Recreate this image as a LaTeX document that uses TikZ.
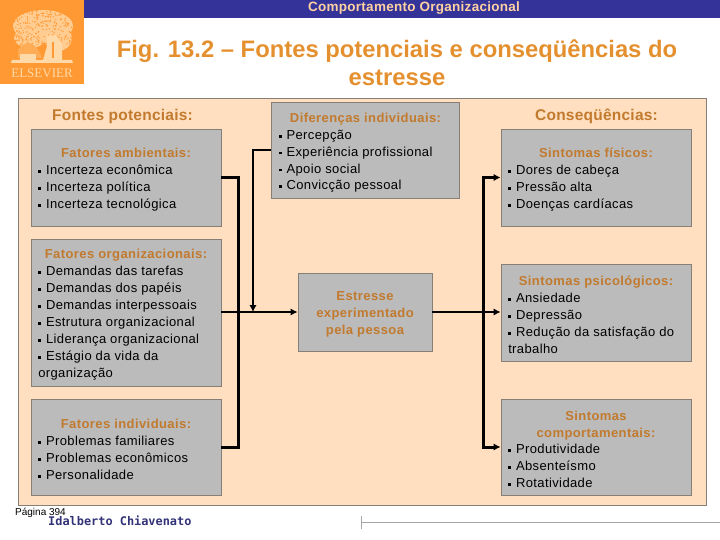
\documentclass[tikz,border=0pt]{standalone}
\usepackage{fontspec}
\setmainfont{Liberation Sans}
\newfontfamily\monof{DejaVu Sans Mono}
\usetikzlibrary{arrows.meta}
\definecolor{navyb}{HTML}{333399}
\definecolor{navyt}{HTML}{333377}
\definecolor{orlogo}{HTML}{FF9933}
\definecolor{treec}{HTML}{FFD9A8}
\definecolor{peach}{HTML}{FFDFBF}
\definecolor{boxg}{HTML}{BBBBBB}
\definecolor{edgeg}{HTML}{857F77}
\definecolor{headc}{HTML}{C27A2E}
\definecolor{titlec}{HTML}{E5902F}
\newcommand{\hd}[1]{\makebox[\linewidth][c]{\textcolor{headc}{\bfseries\addfontfeature{LetterSpace=3.2}#1}}}
\newcommand{\bl}{\raisebox{1.7pt}{\rule{2.8pt}{2.8pt}}\hspace{5pt}}
\tikzset{
  box/.style={draw=edgeg,line width=0.9pt,fill=boxg,inner sep=0pt,minimum width=#1,text width=#1-14.5pt,
    align=flush left,font=\fontsize{13}{16.9}\selectfont\addfontfeature{LetterSpace=3},text=black,
    execute at begin node={\rule{0pt}{14pt}}},
  link/.style={line width=3pt,black},
  hlink/.style={line width=2.6pt,black},
  tip/.style={-{Latex[length=7pt,width=7.5pt]}},
  sechead/.style={text=headc,font=\fontsize{15.5}{17}\selectfont\bfseries\addfontfeature{LetterSpace=1.5},inner sep=0pt},
}
\begin{document}
\begin{tikzpicture}[x=1pt,y=-1pt]
\useasboundingbox (0,0) rectangle (720,540);
% header and logo
\fill[navyb] (84,0) rectangle (720,18);
\fill[orlogo] (0,0) rectangle (84,84);
\begin{scope}
  \pgfmathsetseed{7}
  \fill[treec!80!orlogo] (43,26) ellipse (30 and 16);
  \fill[treec!80!orlogo] (30,38) ellipse (16 and 10);
  \fill[treec!80!orlogo] (58,38) ellipse (14 and 13);
  \foreach \i in {1,...,300}{
    \pgfmathsetmacro{\px}{11+rnd*61}
    \pgfmathsetmacro{\py}{9+rnd*36}
    \fill[orlogo] (\px,\py) circle (0.7);
  }
  \fill[treec] (47,36) -- (56,35) -- (62,44) -- (62,60) -- (43,60) -- (47,46) -- cycle;
  \fill[orlogo] (52,42) rectangle (54,58);
  \fill[orlogo!70!treec] (18,50) .. controls (26,38) and (36,42) .. (42,58) -- (18,58) -- cycle;
  \fill[treec] (20,54) rectangle (36,60);
  \fill[treec] (12,60) -- (72,60) -- (73,63) -- (11,63) -- cycle;
\end{scope}
\node[inner sep=0pt,text=treec] (elsv) at (42,73) {\fontspec{Liberation Serif}\fontsize{13}{13}\selectfont ELSEVIER};
\node[inner sep=0pt,text=peach!85!orange,font=\fontsize{13.5}{14}\selectfont\bfseries\addfontfeature{LetterSpace=2}] (hdr) at (414,8) {Comportamento Organizacional};
\node[inner sep=0pt,text=titlec,align=center,font=\fontsize{23.8}{28}\selectfont\bfseries] (title) at (397,63) {Fig. 13.2 – Fontes potenciais e conseqüências do\\estresse};
% panel
\filldraw[fill=peach,draw=edgeg,line width=0.9pt] (18,98) rectangle (706,505);
\node[sechead] (fontes) at (122.5,116.5) {Fontes potenciais:};
\node[sechead] (conseq) at (596.5,116.5) {Conseqüências:};
% boxes
\node[box=190pt,minimum height=97pt] (amb) at (126,177.5) {\hd{Fatores ambientais:}\\\bl Incerteza econômica\\\bl Incerteza política\\\bl Incerteza tecnológica};
\node[box=190pt,minimum height=147pt] (org) at (126,312.5) {\hd{Fatores organizacionais:}\\\bl Demandas das tarefas\\\bl Demandas dos papéis\\\bl Demandas interpessoais\\\bl Estrutura organizacional\\\bl Liderança organizacional\\\bl Estágio da vida da\\organização};
\node[box=190pt,minimum height=96pt] (ind) at (126,447) {\hd{Fatores individuais:}\\\bl Problemas familiares\\\bl Problemas econômicos\\\bl Personalidade};
\node[box=188pt,minimum height=96pt] (dif) at (365.5,150.5) {\hd{Diferenças individuais:}\\\bl Percepção\\\bl Experiência profissional\\\bl Apoio social\\\bl Convicção pessoal};
\node[box=134pt,minimum height=78pt] (stress) at (365,312) {\hd{Estresse}\\\hd{experimentado}\\\hd{pela pessoa}};
\node[box=190pt,minimum height=97pt] (fis) at (596,177.5) {\hd{Sintomas físicos:}\\\bl Dores de cabeça\\\bl Pressão alta\\\bl Doenças cardíacas};
\node[box=190pt,minimum height=97pt] (psi) at (596,312.5) {\hd{Sintomas psicológicos:}\\\bl Ansiedade\\\bl Depressão\\\bl Redução da satisfação do\\trabalho};
\node[box=190pt,minimum height=96pt] (com) at (596,447) {\hd{Sintomas}\\\hd{comportamentais:}\\\bl Produtividade\\\bl Absenteísmo\\\bl Rotatividade};
% connectors
\coordinate (busL) at (238,312);
\coordinate (busD) at (253,312);
\coordinate (busR) at (483,312);
\draw[link] (amb.east) -| (busL);
\draw[link] (ind.east) -| (busL);
\draw[hlink,tip] (org.east |- stress.west) -- (stress.west);
\draw[line width=2pt,tip] (dif.west) -| (busD);
\draw[hlink,tip] (stress.east) -- (stress.east -| psi.west);
\draw[link,tip] (busR) |- (fis.west);
\draw[link,tip] (busR) |- (com.west);
% footer
\node[inner sep=0pt,anchor=base west,font=\fontsize{10}{10}\selectfont] (pg) at (15,515) {Página 394};
\node[inner sep=0pt,anchor=base west,text=navyt,font=\monof\bfseries\fontsize{11.9}{12}\selectfont] (auth) at (48,525) {Idalberto Chiavenato};
\coordinate (rs) at (361,522.5);
\coordinate (re) at (720,522.5);
\coordinate (ra) at (361,516);
\coordinate (rb) at (361,529);
\draw[gray!70,line width=0.8pt] (rs) -- (re);
\draw[gray!70,line width=0.8pt] (ra) -- (rb);
\end{tikzpicture}
\end{document}
